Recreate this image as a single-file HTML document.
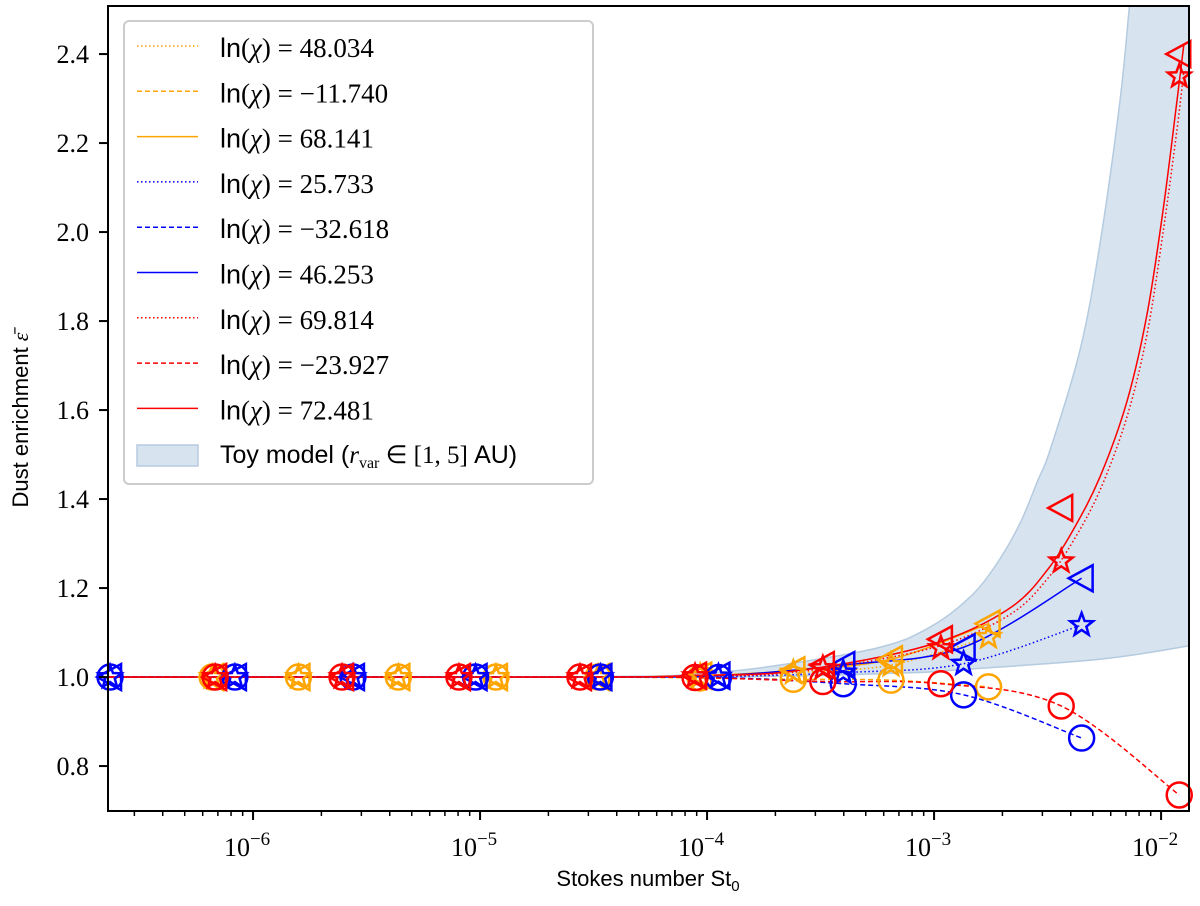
<!DOCTYPE html>
<html><head><meta charset="utf-8"><style>
body{margin:0;background:#fff;width:1200px;height:901px;overflow:hidden}
svg text{font-family:"Liberation Serif",serif}
.sans{font-family:"Liberation Sans",sans-serif}
</style></head><body>
<svg id="chart" width="1200" height="901" xmlns="http://www.w3.org/2000/svg">
<g id="band"></g>
<g id="lines"></g>
<g id="marks"></g>
<g id="axes"></g>
<g id="legend"></g>
</svg>
<script>
// ---- data (x as log10 St) ----
const redX = [-6.167,-5.608,-5.093,-4.56,-4.053,-3.49,-2.97,-2.44,-1.92];
const redCircle = [1.0,1.0,1.0,1.0,0.999,0.99,0.985,0.935,0.735];
const redStar = [1.0,1.0,1.0,1.0,1.002,1.02,1.065,1.26,2.35];
const redTri = [1.0,1.0,1.0,1.0,1.003,1.027,1.085,1.38,2.40];
const blueX = [-6.63,-6.08,-5.56,-5.02,-4.47,-3.95,-3.40,-2.87,-2.35];
const blueCircle = [1.0,1.0,1.0,1.0,1.0,0.999,0.985,0.96,0.863];
const blueStar = [1.0,1.0,1.0,1.0,1.0,1.001,1.01,1.03,1.117];
const blueTri = [1.0,1.0,1.0,1.0,1.0,1.003,1.027,1.067,1.222];
const orangeX = [-6.18,-5.80,-5.36,-4.93,-4.48,-4.03,-3.62,-3.19,-2.76];
const orangeCircle = [1.0,1.0,1.0,1.0,1.0,0.998,0.995,0.993,0.978];
const orangeStar = [1.0,1.0,1.0,1.0,1.0,1.002,1.01,1.027,1.09];
const orangeTri = [1.0,1.0,1.0,1.0,1.0,1.003,1.015,1.04,1.12];
// dense model curves for the steep red lines
const redLineX = [-6.64,-4.5,-4.05,-3.678,-3.238,-2.916,-2.652,-2.502,-2.388,-2.269,-2.15,-2.062,-1.991,-1.93,-1.90];
const redSolidLine = [1.0,1.0,1.004,1.01,1.045,1.09,1.16,1.24,1.33,1.45,1.62,1.815,2.05,2.295,2.42];
const redDottedLine = [1.0,1.0,1.003,1.008,1.04,1.08,1.145,1.22,1.305,1.42,1.585,1.77,2.0,2.23,2.36];
const bandX = [-6.64,-4.5,-4.03,-3.678,-3.238,-3.018,-2.841,-2.722,-2.621,-2.542,-2.489,-2.357,-2.269,-2.181,-2.137,-2.10];
const bandUpper = [1.0,1.001,1.008,1.027,1.067,1.112,1.18,1.256,1.346,1.443,1.51,1.735,1.974,2.295,2.52,2.7];
const bandLowX = [-6.64,-4.03,-3.15,-2.93,-2.27,-1.877];
const bandLower = [1.0,1.0,1.009,1.015,1.04,1.07];
const yTicks = [0.8,1.0,1.2,1.4,1.6,1.8,2.0,2.2,2.4];
const xDecades = [-6,-5,-4,-3,-2];
const legendLabels = ["48.034","\u221211.740","68.141","25.733","\u221232.618","46.253","69.814","\u221223.927","72.481"];

const L=108,R=1189,T=6,B=811;
const XMIN=-6.639,XMAX=-1.877,YMIN=0.699,YMAX=2.508;
const sx=v=>L+(v-XMIN)/(XMAX-XMIN)*(R-L);
const sy=v=>B-(v-YMIN)/(YMAX-YMIN)*(B-T);
const NS="http://www.w3.org/2000/svg";
function mk(tag,attrs,parent){const e=document.createElementNS(NS,tag);for(const k in attrs)e.setAttribute(k,attrs[k]);parent.appendChild(e);return e;}
const gBand=document.getElementById('band'),gLines=document.getElementById('lines'),gMarks=document.getElementById('marks'),gAxes=document.getElementById('axes'),gLeg=document.getElementById('legend');

const defs=mk('defs',{},document.getElementById('chart'));
const cp=mk('clipPath',{id:'clip'},defs);mk('rect',{x:L,y:T,width:R-L,height:B-T},cp);
gBand.setAttribute('clip-path','url(#clip)');gLines.setAttribute('clip-path','url(#clip)');

function smooth(pts){let d=`M${pts[0][0]},${pts[0][1]}`;
 for(let i=0;i<pts.length-1;i++){const p0=pts[Math.max(0,i-1)],p1=pts[i],p2=pts[i+1],p3=pts[Math.min(pts.length-1,i+2)];
 const c1=[p1[0]+(p2[0]-p0[0])/6,p1[1]+(p2[1]-p0[1])/6],c2=[p2[0]-(p3[0]-p1[0])/6,p2[1]-(p3[1]-p1[1])/6];
 d+=` C${c1[0]},${c1[1]} ${c2[0]},${c2[1]} ${p2[0]},${p2[1]}`;}return d;}

// band
const up=bandX.map((x,i)=>[sx(x),sy(bandUpper[i])]);
const lo=bandLowX.map((x,i)=>[sx(x),sy(bandLower[i])]);
let bd=smooth(up);bd+=` L${sx(-1.0)},${sy(2.7)} L${sx(-1.0)},${lo[lo.length-1][1]}`;
const loR=lo.slice().reverse();bd+=' '+smooth(loR).replace('M','L');bd+=' Z';
const band=mk('path',{d:bd,fill:'#d7e3ee',stroke:'#b5cbe0','stroke-width':1.5},gBand);



const cols={orange:'#ffa500',blue:'#0000ff',red:'#ff0000'};
const series=[
 ['orange',orangeX,orangeStar,'1.5,2.5','star',null],['orange',orangeX,orangeCircle,'5,3','circle',null],['orange',orangeX,orangeTri,'','tri',null],
 ['blue',blueX,blueStar,'1.5,2.5','star',null],['blue',blueX,blueCircle,'5,3','circle',null],['blue',blueX,blueTri,'','tri',null],
 ['red',redX,redStar,'1.5,2.5','star',redDottedLine],['red',redX,redCircle,'5,3','circle',null],['red',redX,redTri,'','tri',redSolidLine]];
series.forEach(([c,xs,ys,dash,m,dense])=>{
 let pts;
 if(dense) pts=redLineX.map((x,i)=>[sx(x),sy(dense[i])]);
 else pts=[[sx(XMIN),sy(1.0)]].concat(xs.map((x,i)=>[sx(x),sy(ys[i])]));
 const p=mk('path',{d:smooth(pts),fill:'none',stroke:cols[c],'stroke-width':1.5},gLines);
 if(dash)p.setAttribute('stroke-dasharray',dash);
 
 
 xs.forEach((x,i)=>{const X=sx(x),Y=sy(ys[i]);let e;
  if(m==='circle')e=mk('circle',{cx:X,cy:Y,r:12.5},gMarks);
  else if(m==='tri')e=mk('polygon',{points:`${X-13},${Y} ${X+11},${Y-13} ${X+11},${Y+13}`},gMarks);
  else{let s='';for(let k=0;k<10;k++){const a=-Math.PI/2+k*Math.PI/5,r=k%2?5:12;s+=`${X+r*Math.cos(a)},${Y+r*Math.sin(a)} `;}e=mk('polygon',{points:s},gMarks);}
  e.setAttribute('fill','none');e.setAttribute('stroke',cols[c]);e.setAttribute('stroke-width',2.5);
  
  
 });
});

// axes
const frame=mk('rect',{x:L,y:T,width:R-L,height:B-T,fill:'none',stroke:'#000','stroke-width':2},gAxes);


yTicks.forEach(v=>{const y=sy(v);mk('line',{x1:L-9,x2:L,y1:y,y2:y,stroke:'#000','stroke-width':2},gAxes);
 const t=mk('text',{x:L-19,y:y+9,'text-anchor':'end','font-size':26},gAxes);t.textContent=v.toFixed(1);
 
 });
for(let d=-7;d<=-2;d++){for(let k=1;k<10;k++){const v=d+Math.log10(k);if(v<XMIN||v>XMAX)continue;const x=sx(v);
 mk('line',{x1:x,x2:x,y1:B,y2:B+(k===1?9:5),stroke:'#000','stroke-width':k===1?2:1.5},gAxes);}}
xDecades.forEach(d=>{const x=sx(d);const t=mk('text',{x:x-6,y:B+45,'text-anchor':'middle','font-size':26},gAxes);
 t.innerHTML=`10<tspan dy="-11" font-size="19">\u2212${-d}</tspan>`;
 
 });
const xl=mk('text',{x:648,y:886,'text-anchor':'middle','font-size':22,class:'sans'},gAxes);
xl.innerHTML='Stokes number St<tspan dy="5" font-size="15">0</tspan>';


const yl=mk('text',{x:0,y:0,'text-anchor':'middle','font-size':22,class:'sans',transform:'translate(28,420) rotate(-90)'},gAxes);
yl.innerHTML='Dust enrichment <tspan font-family="Liberation Serif" font-style="italic">ε̄</tspan>';



// legend
const lb=mk('rect',{x:124,y:21,width:469,height:463,rx:5,fill:'#fff','fill-opacity':0.85,stroke:'#ccc','stroke-width':2},gLeg);


const legStyles=[['orange','1.5,2.5'],['orange','5,3'],['orange',''],['blue','1.5,2.5'],['blue','5,3'],['blue',''],['red','1.5,2.5'],['red','5,3'],['red','']];
legendLabels.forEach((lab,i)=>{const y=47+i*45.3;const g=mk('g',{},gLeg);
 
 
 const ln=mk('line',{x1:137,x2:198,y1:y-1,y2:y-1,stroke:cols[legStyles[i][0]],'stroke-width':1.5},g);
 if(legStyles[i][1])ln.setAttribute('stroke-dasharray',legStyles[i][1]);
 const t=mk('text',{x:220,y:y+10,'font-size':27},g);
 t.innerHTML=`<tspan font-family="Liberation Sans">ln</tspan>(<tspan font-style="italic">χ</tspan>) = ${lab}`;});
const g2=mk('g',{},gLeg);


mk('rect',{x:137,y:445,width:61,height:21,fill:'#d7e3ee',stroke:'#b5cbe0','stroke-width':1.5},g2);
const tt=mk('text',{x:220,y:463,'font-size':25},g2);
tt.innerHTML='<tspan font-family="Liberation Sans">Toy model (</tspan><tspan font-style="italic">r</tspan><tspan dy="5" font-size="16">var</tspan><tspan dy="-5"> ∈ [1, 5] </tspan><tspan font-family="Liberation Sans">AU)</tspan>';
</script>
</body></html>
